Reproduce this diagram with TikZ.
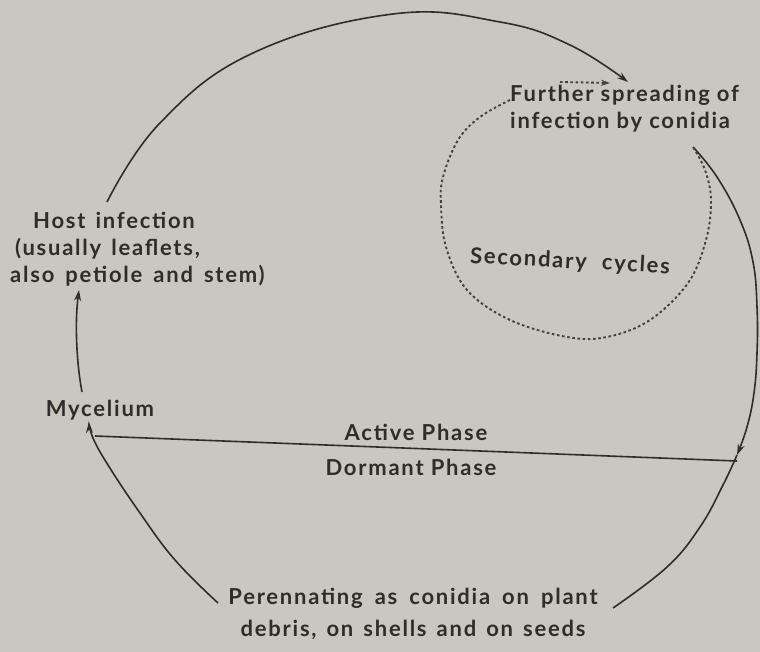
\documentclass[tikz,border=0pt]{standalone}
\usepackage{fontspec}
\setmainfont[LetterSpace=8]{Lato}
\usetikzlibrary{arrows.meta}
\definecolor{bg}{HTML}{CAC6C0}
\definecolor{ink}{HTML}{2F2D2B}
\newcommand\wordgap[1]{\spaceskip=#1\relax}
\tikzset{
  lbl/.style={inner sep=0pt, text=ink, font=\fontsize{22}{27}\selectfont\bfseries},
  solidline/.style={draw=ink, line width=1.6pt},
  dotline/.style={draw=ink!90, line width=1.9pt, dash pattern=on 2.6pt off 2.6pt},
  tip/.style={-{Stealth[length=11pt,width=7pt]}}
}
\begin{document}
\begin{tikzpicture}[x=1pt,y=-1pt]
\fill[bg] (0,0) rectangle (760,652);
\useasboundingbox (0,0) rectangle (760,652);

% text nodes
\node[lbl, anchor=west, align=left] (host) at (10,249)
  {\wordgap{10pt}\hspace*{23pt}Host infection\\\wordgap{10pt}\hspace*{5pt}(usually leaflets,\\\wordgap{11pt}also petiole and stem)};
\node[lbl, anchor=west, align=left] (further) at (510,109)
  {Further spreading of\\infection by conidia};
\node[lbl, rotate=-3] (secondary) at (570,262) {Secondary\hspace{8pt} cycles};
\node[lbl] (mycelium) at (100,410) {Mycelium};
\node[lbl] (active) at (416,432) {Active Phase};
\node[lbl] (dormant) at (411,467) {Dormant Phase};
\node[lbl, align=center, font=\fontsize{22}{32}\selectfont\bfseries] (peren) at (413,614)
  {\wordgap{12pt}Perennating as conidia on plant\\\wordgap{10pt}debris, on shells and on seeds};

% connector end points
\coordinate (hostTop) at (107,202);
\coordinate (furtherTip) at (628,82);
\coordinate (conidiaEnd) at (693,147);
\coordinate (phaseCross) at (737,455);
\coordinate (perenRight) at (613,608);
\coordinate (perenLeft) at (218,603);
\coordinate (mycTip) at (89,422);
\coordinate (mycTop) at (82,392);
\coordinate (hostBottom) at (79,290);
\coordinate (lineL) at (95,436);
\coordinate (lineR) at (737,461);
\coordinate (dotA) at (560,82);
\coordinate (dotB) at (610,83);

% top arc: host infection -> further spreading
\draw[solidline, tip] plot[smooth, tension=0.7] coordinates
  {(hostTop) (160,123) (253,53) (393,14) (500,22) (570,45) (furtherTip)};

% right arc: further spreading -> dormant (arrow at phase line)
\draw[solidline, tip] plot[smooth, tension=0.7] coordinates
  {(conidiaEnd) (717,177) (740,220) (753,262) (757,307) (757,353) (754,393) (747,427) (phaseCross)};
\draw[solidline] plot[smooth, tension=0.7] coordinates
  {(phaseCross) (723,485) (700,527) (667,567) (perenRight)};

% lower-left arc: perennating -> mycelium
\draw[solidline, tip] plot[smooth, tension=0.7] coordinates
  {(perenLeft) (175,560) (140,513) (108,465) (93,438) (mycTip)};

% mycelium -> host infection
\draw[solidline, tip] (mycTop) .. controls (76,360) and (75,320) .. (hostBottom);

% phase line
\draw[solidline] (lineL) -- (lineR);

% secondary cycle (dotted)
\draw[dotline] plot[smooth, tension=0.6] coordinates
  {(510,100) (480,117) (458,140) (443,177) (441,205) (446,247) (467,290) (510,320) (567,337) (607,337) (650,320) (688,283) (706,240) (711,200) (705,170) (conidiaEnd)};
\draw[dotline, -{Stealth[length=9pt,width=6pt]}] (dotA) -- (dotB);
\end{tikzpicture}
\end{document}
